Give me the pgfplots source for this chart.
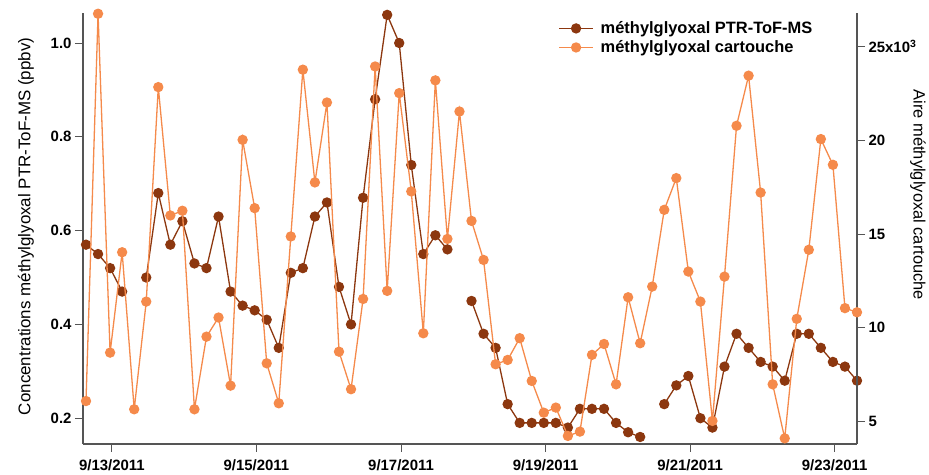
\documentclass[border=0pt]{standalone}
\usepackage{pgfplots}
\pgfplotsset{compat=1.18}
\usepackage{pgfplotstable}
\usepackage{fontspec}
\setmainfont{Liberation Sans}
\definecolor{dk}{RGB}{140,55,15}
\definecolor{orng}{RGB}{245,138,75}
\definecolor{axc}{RGB}{85,85,85}

\pgfplotstableread{
i v
0 0.57
1 0.55
2 0.52
3 0.47
4 nan
5 0.50
6 0.68
7 0.57
8 0.62
9 0.53
10 0.52
11 0.63
12 0.47
13 0.44
14 0.43
15 0.41
16 0.35
17 0.51
18 0.52
19 0.63
20 0.66
21 0.48
22 0.40
23 0.67
24 0.88
25 1.06
26 1.00
27 0.74
28 0.55
29 0.59
30 0.56
31 nan
32 0.45
33 0.38
34 0.35
35 0.23
36 0.19
37 0.19
38 0.19
39 0.19
40 0.18
41 0.22
42 0.22
43 0.22
44 0.19
45 0.17
46 0.16
47 nan
48 0.23
49 0.27
50 0.29
51 0.20
52 0.18
53 0.31
54 0.38
55 0.35
56 0.32
57 0.31
58 0.28
59 0.38
60 0.38
61 0.35
62 0.32
63 0.31
64 0.28
}\ptrdata

\pgfplotstableread{
i v
0 6.10
1 26.74
2 8.68
3 14.03
4 5.66
5 11.40
6 22.83
7 15.99
8 16.24
9 5.66
10 9.53
11 10.55
12 6.92
13 20.02
14 16.38
15 8.11
16 5.98
17 14.87
18 23.76
19 17.75
20 22.01
21 8.73
22 6.73
23 11.54
24 23.93
25 11.97
26 22.51
27 17.27
28 9.71
29 23.19
30 14.74
31 21.53
32 15.70
33 13.62
34 8.06
35 8.29
36 9.45
37 7.17
38 5.48
39 5.75
40 4.24
41 4.47
42 8.56
43 9.14
44 6.99
45 11.63
46 9.18
47 12.20
48 16.29
49 17.98
50 13.00
51 11.40
52 5.04
53 12.73
54 20.77
55 23.44
56 17.21
57 6.99
58 4.11
59 10.48
60 14.16
61 20.06
62 18.69
63 11.05
64 10.83
}\cartdata

\begin{document}
\begin{tikzpicture}
\path[use as bounding box] (0,0) rectangle (929bp,475bp);
\pgfplotsset{
  base/.style={
    at={(83bp,31bp)}, anchor=south west,
    scale only axis, width=774bp, height=431bp,
    xmin=-0.25, xmax=64,
    tick align=outside, major tick length=8bp,
    every tick/.style={axc, line width=0.9bp},
    axis line style={axc, line width=1.1bp},
    ticklabel style={font=\fontsize{15}{15}\selectfont\bfseries, text=black},
    clip=false,
    unbounded coords=jump,
  }
}
\begin{axis}[base,
  axis y line*=left, axis x line*=bottom,
  ymin=0.145, ymax=1.064,
  ytick={0.2,0.4,0.6,0.8,1.0}, yticklabels={0.2,0.4,0.6,0.8,1.0},
  xtick={2.15,14.15,26.15,38.15,50.15,62.15},
  xticklabels={9/13/2011,9/15/2011,9/17/2011,9/19/2011,9/21/2011,9/23/2011},
  xticklabel style={yshift=-4bp},
  ylabel={Concentrations méthylglyoxal PTR-ToF-MS (ppbv)},
  every axis y label/.style={at={(rel axis cs:0,0.505)}, xshift=-57bp, rotate=90, anchor=center, font=\fontsize{17}{17}\selectfont},
]
\addplot[dk, line width=1.3bp, mark=*, mark size=4.5bp, mark options={solid, fill=dk, draw=dk}] table[x=i, y=v] {\ptrdata};
\end{axis}
\begin{axis}[base,
  axis y line*=right, axis x line=none,
  ymin=3.81, ymax=26.78,
  ytick={5,10,15,20,25}, yticklabels={5,10,15,20,{25x10\textsuperscript{3}}},
  ylabel={Aire méthylglyoxal cartouche},
  every axis y label/.style={at={(rel axis cs:1,0.578)}, xshift=61bp, rotate=-90, anchor=center, font=\fontsize{16.5}{16.5}\selectfont},
  legend style={draw=none, fill=none, at={(rel axis cs:0.614,0.985)}, anchor=north west,
    font=\fontsize{16.5}{16.5}\selectfont\bfseries, inner xsep=0pt, inner ysep=0pt,
    row sep=1.5bp, column sep=5bp, cells={anchor=west}},
  legend image code/.code={\draw[mark repeat=2, mark phase=2, #1] plot coordinates {(0bp,0bp) (17bp,0bp) (34bp,0bp)};},
]
\addlegendimage{dk, line width=1.3bp, mark=*, mark size=4.5bp, mark options={solid, fill=dk, draw=dk}}
\addlegendentry{méthylglyoxal PTR-ToF-MS}
\addplot[orng, line width=1.3bp, mark=*, mark size=4.5bp, mark options={solid, fill=orng, draw=orng}] table[x=i, y=v] {\cartdata};
\addlegendentry{méthylglyoxal cartouche}
\end{axis}
\end{tikzpicture}
\end{document}
